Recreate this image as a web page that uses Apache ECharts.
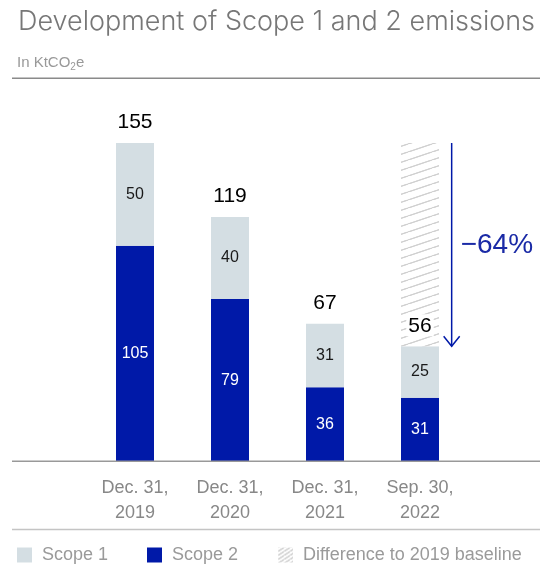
<!DOCTYPE html>
<html>
<head>
<meta charset="utf-8">
<script src="https://cdn.jsdelivr.net/npm/echarts@6/dist/echarts.min.js"></script>
<style>html,body{margin:0;padding:0;background:#fff}#c{width:540px;height:564px}</style>
</head>
<body>
<div id="c"></div>
<script>
var categories = ['Dec. 31,\n2019', 'Dec. 31,\n2020', 'Dec. 31,\n2021', 'Sep. 30,\n2022'];
var scope2 = [105, 79, 36, 31];
var scope1 = [50, 40, 31, 25];
var totals = [155, 119, 67, 56];
var diffTo2019 = [null, null, null, 99];
var changeLabel = '\u221264%';

var C1 = '#d4dee3', C2 = '#0019a8', CTXT = '#888888';
var FONT = '"Liberation Sans", Arial, sans-serif';

function hatch(W, H) {
  var cv = document.createElement('canvas');
  cv.width = W; cv.height = H;
  var ctx = cv.getContext('2d');
  ctx.fillStyle = '#ffffff';
  ctx.fillRect(0, 0, W, H);
  ctx.strokeStyle = '#cfcfcf';
  ctx.lineWidth = 1.1;
  [[0, H, W, 0], [-W, H, 0, 0], [W, H, 2 * W, 0], [-W, 2 * H, W, 0], [0, 2 * H, 2 * W, 0]].forEach(function (l) {
    ctx.beginPath(); ctx.moveTo(l[0], l[1]); ctx.lineTo(l[2], l[3]); ctx.stroke();
  });
  return cv;
}
var pattern = { image: hatch(24, 8), repeat: 'repeat' };
var iconPattern = { image: hatch(6, 4), repeat: 'repeat' };

var chart = echarts.init(document.getElementById('c'), null, { renderer: 'canvas' });
var legendText = { color: '#9a9a9a', fontSize: 18, fontFamily: FONT, padding: [0, 0, 0, 5] };
chart.setOption({
  animation: false,
  title: [{
    text: 'Development of Scope 1 and 2 emissions',
    left: 13, top: 3,
    textStyle: { fontFamily: 'Inter, "Noto Sans", sans-serif', fontWeight: 300, fontSize: 27, color: '#777777' }
  }, {
    text: '{a|In KtCO}{s|2}{a|e}',
    left: 12, top: 48,
    textStyle: { rich: {
      a: { fontFamily: FONT, fontSize: 15, fontWeight: 'normal', color: '#999999' },
      s: { fontFamily: FONT, fontSize: 10, fontWeight: 'normal', color: '#999999', padding: [9, 0, 0, 0] }
    } }
  }],
  legend: [
    { data: ['Scope 1'], left: 12, top: 541, itemWidth: 15, itemHeight: 15, icon: 'rect', textStyle: legendText },
    { data: ['Scope 2'], left: 142, top: 541, itemWidth: 15, itemHeight: 15, icon: 'rect', textStyle: legendText },
    { data: [{ name: 'Difference to 2019 baseline', itemStyle: { color: iconPattern } }], left: 273, top: 541, itemWidth: 15, itemHeight: 15, icon: 'rect', textStyle: legendText }
  ],
  grid: { left: 87.5, right: 72.5, top: 112.2, bottom: 102.7 },
  xAxis: {
    type: 'category', data: categories,
    axisLine: { show: false }, axisTick: { show: false },
    axisLabel: { color: CTXT, fontSize: 18, lineHeight: 25, fontFamily: FONT, margin: 14 }
  },
  yAxis: { type: 'value', min: 0, max: 170, show: false, splitLine: { show: false } },
  series: [{
    name: 'Scope 2', type: 'bar', stack: 's', data: scope2, barWidth: 38,
    itemStyle: { color: C2 },
    label: { show: true, position: 'inside', color: '#fff', fontSize: 16, fontFamily: FONT }
  }, {
    name: 'Scope 1', type: 'bar', stack: 's', data: scope1, barWidth: 38,
    itemStyle: { color: C1 },
    label: { show: true, position: 'inside', color: '#1a1a1a', fontSize: 16, fontFamily: FONT }
  }, {
    name: 'Difference to 2019 baseline', type: 'bar', stack: 's', data: diffTo2019, barWidth: 38,
    itemStyle: { color: pattern }
  }, {
    name: 'Total', type: 'scatter', data: totals, symbolSize: 0, z: 10,
    itemStyle: { opacity: 1 },
    label: { show: true, position: 'top', distance: 10, color: '#000', fontSize: 21, fontFamily: FONT,
      backgroundColor: '#fff', padding: [1, 2, 0, 2] }
  }]
});

function addGraphics() {
  var p155 = chart.convertToPixel({ gridIndex: 0 }, [3, totals[0]]);
  var p56 = chart.convertToPixel({ gridIndex: 0 }, [3, totals[3]]);
  var p2 = chart.convertToPixel({ gridIndex: 0 }, [2, 0]);
  var p0 = chart.convertToPixel({ gridIndex: 0 }, [0, 0]);
  var band = p155[0] - p2[0];
  var ax = p155[0] + band / 3;
  var y0 = p155[1], y1 = p56[1];
  chart.setOption({
    graphic: [
      { type: 'line', shape: { x1: 12, y1: 78.3, x2: 540, y2: 78.3 }, style: { stroke: '#8a8a8a', lineWidth: 1.6 } },
      { type: 'line', shape: { x1: 12, y1: p0[1], x2: 540, y2: p0[1] }, style: { stroke: '#999999', lineWidth: 1.6 }, z: 20 },
      { type: 'line', shape: { x1: 12, y1: 529.5, x2: 540, y2: 529.5 }, style: { stroke: '#c4c4c4', lineWidth: 1.5 } },
      { type: 'line', shape: { x1: ax, y1: y0, x2: ax, y2: y1 }, style: { stroke: C2, lineWidth: 1.5 } },
      { type: 'polyline', shape: { points: [[ax - 8, y1 - 10], [ax, y1], [ax + 8, y1 - 10]] }, style: { stroke: C2, lineWidth: 1.5, fill: null } },
      { type: 'text', x: ax + 9, y: (y0 + y1) / 2 + 1, style: { text: changeLabel, fill: '#1a2aa6', fontSize: 28, fontFamily: FONT, textVerticalAlign: 'middle', verticalAlign: 'middle' } }
    ]
  });
}
addGraphics();
</script>
</body>
</html>
